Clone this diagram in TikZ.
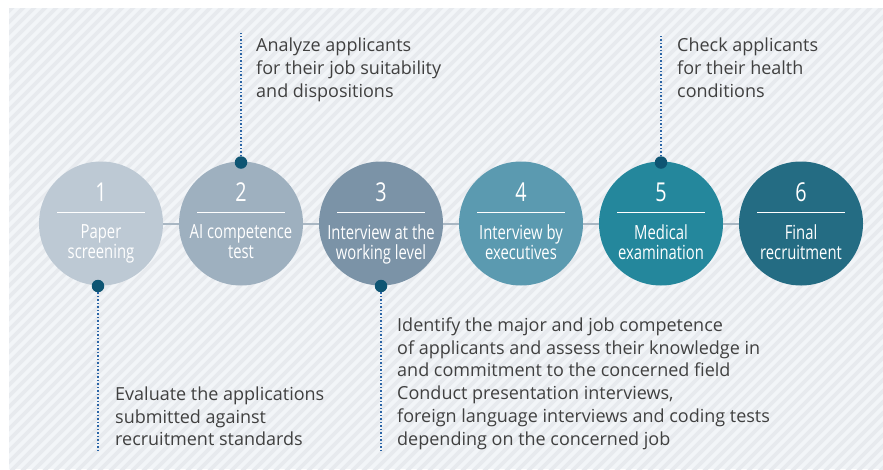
\documentclass[tikz,border=0pt]{standalone}
\usepackage{fontspec}
\setmainfont{Open Sans}
\newfontfamily\condfont[FakeStretch=0.76]{Open Sans}
\definecolor{panelbg}{HTML}{F2F5F8}
\definecolor{stripe}{HTML}{E7EAEE}
\definecolor{cA}{HTML}{BDC9D4}
\definecolor{cB}{HTML}{9EB0BF}
\definecolor{cC}{HTML}{7B93A7}
\definecolor{cD}{HTML}{5B9AB0}
\definecolor{cE}{HTML}{24879C}
\definecolor{cF}{HTML}{246C83}
\definecolor{linkc}{HTML}{A9B7C3}
\definecolor{dotc}{HTML}{0E5573}
\definecolor{dottedc}{HTML}{2A64A6}
\definecolor{txt}{HTML}{404040}
\tikzset{
  stepcircle/.style={circle, minimum size=124pt, inner sep=0pt},
  stepnum/.style={text=white, font=\condfont\fontsize{26}{26}\selectfont, inner sep=0pt, anchor=base},
  steplabel/.style={text=white, font=\condfont\fontsize{19.5}{20}\selectfont, align=center, inner sep=0pt, anchor=north},
  rulewhite/.style={draw=white, line width=1.2pt},
  linkline/.style={draw=linkc, line width=2pt},
  pin/.style={circle, fill=dotc, minimum size=12.5pt, inner sep=0pt},
  leader/.style={draw=dottedc, line width=1.1pt, dash pattern=on 1.1pt off 2.4pt},
  annot/.style={text=txt, font=\fontsize{18}{22.8}\selectfont, align=left, inner sep=0pt, anchor=north west},
}
\newcommand{\capstrut}{\rule{0pt}{14pt}}
\begin{document}
\begin{tikzpicture}[x=1pt,y=-1pt]
\useasboundingbox (0,0) rectangle (883,469);
\fill[white] (0,0) rectangle (883,469);
\fill[panelbg] (9,8) rectangle (883,469);
\begin{scope}
  \clip (9,8) rectangle (883,469);
  \foreach \k in {0,...,125} {
    \draw[stripe, line width=3.6pt] ({-455+11*\k},475) -- ({-455+11*\k+470},5);
  }
\end{scope}
% circles
\foreach \i/\cx/\col in {1/101/cA,2/241/cB,3/381/cC,4/521/cD,5/661/cE,6/801/cF} {
  \node[stepcircle, fill=\col] (c\i) at (\cx,223.5) {};
}
% links
\foreach \a/\b in {1/2,2/3,3/4,4/5,5/6} {
  \draw[linkline] (c\a.east) -- (c\b.west);
}
% numbers, rules, labels
\foreach \i/\cx/\lab in {1/101/{Paper\\screening},2/241/{AI competence\\test},3/381/{Interview at the\\working level},4/521/{Interview by\\executives},5/661/{Medical\\examination},6/801/{Final\\recruitment}} {
  \node[stepnum] (n\i) at (\cx,201) {\i};
  \coordinate (rl\i) at (\cx-44,212.5);
  \coordinate (rr\i) at (\cx+44,212.5);
  \draw[rulewhite] (rl\i) -- (rr\i);
  \node[steplabel] (l\i) at (\cx,224) {\capstrut\lab};
}
% pins and leaders
\node[pin] (p1) at (98,286) {};
\node[pin] (p2) at (241,162.5) {};
\node[pin] (p3) at (381,286) {};
\node[pin] (p5) at (661,162.5) {};
\coordinate (e1) at (98,451);
\coordinate (e2) at (241,33);
\coordinate (e3) at (381,451);
\coordinate (e5) at (661,34);
\draw[leader] (p1) -- (e1);
\draw[leader] (p2) -- (e2);
\draw[leader] (p3) -- (e3);
\draw[leader] (p5) -- (e5);
% annotations
\node[annot] (a2) at (256,37.7) {\capstrut Analyze applicants\\for their job suitability\\and dispositions};
\node[annot] (a5) at (677,37.3) {\capstrut Check applicants\\for their health\\conditions};
\node[annot] (a1) at (115,386) {\capstrut Evaluate the applications\\submitted against\\recruitment standards};
\node[annot] (a3) at (397,317) {\capstrut Identify the major and job competence\\of applicants and assess their knowledge in\\and commitment to the concerned field\\Conduct presentation interviews,\\foreign language interviews and coding tests\\depending on the concerned job};
\end{tikzpicture}
\end{document}
